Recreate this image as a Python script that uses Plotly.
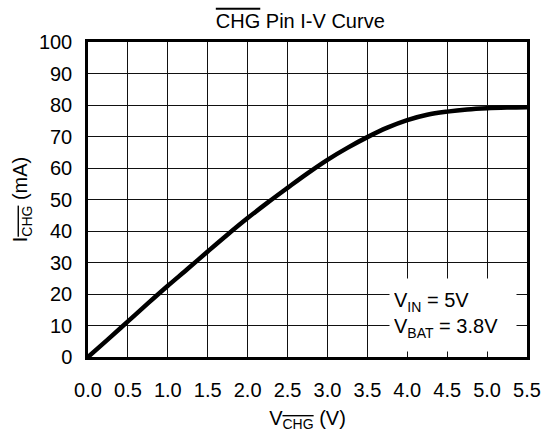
import plotly.graph_objects as go

v_chg = [0.0, 0.25, 0.5, 0.75, 1.0, 1.25, 1.5, 1.75, 2.0, 2.25, 2.5, 2.75,
         3.0, 3.25, 3.5, 3.75, 4.0, 4.25, 4.5, 4.75, 5.0, 5.25, 5.5]
i_chg = [0.0, 5.6, 11.3, 17.0, 22.6, 28.0, 33.5, 38.9, 44.1, 49.0, 53.7, 58.3,
         62.6, 66.4, 69.8, 72.8, 75.2, 76.9, 77.9, 78.6, 79.0, 79.2, 79.3]

x_ticks = [0.0, 0.5, 1.0, 1.5, 2.0, 2.5, 3.0, 3.5, 4.0, 4.5, 5.0, 5.5]
x_ticktext = ["%.1f" % t for t in x_ticks]
y_ticks = list(range(0, 101, 10))

OV = '<span style="text-decoration:overline">CHG</span>'
FONT = "Liberation Sans, Arial, sans-serif"

fig = go.Figure()
fig.add_trace(go.Scatter(x=v_chg, y=i_chg, mode="lines",
                         line=dict(color="black", width=4.5, shape="spline"),
                         showlegend=False, hoverinfo="skip"))

fig.update_layout(
    width=544, height=432,
    margin=dict(l=88, r=17, t=42, b=75, autoexpand=False),
    paper_bgcolor="white", plot_bgcolor="white",
    font=dict(family=FONT, size=20, color="black"),
    title=dict(text=OV + " Pin I-V Curve", x=0.552, xanchor="center",
               y=0.952, yanchor="middle", font=dict(size=20, family=FONT)),
    xaxis=dict(range=[0, 5.5], tickvals=x_ticks, ticktext=x_ticktext,
               showgrid=True, gridcolor="#111", gridwidth=1, automargin=False,
               zeroline=False, showline=True, linecolor="black", linewidth=2.5,
               mirror=True, ticks="", ticklabelstandoff=13,
               tickfont=dict(size=20),
               title=dict(text="V<sub>" + OV + "</sub> (V)", font=dict(size=20), standoff=12)),
    yaxis=dict(range=[0, 100], tickvals=y_ticks,
               showgrid=True, gridcolor="#111", gridwidth=1, automargin=False,
               zeroline=False, showline=True, linecolor="black", linewidth=2.5,
               mirror=True, ticks="", ticklabelstandoff=9,
               tickfont=dict(size=20),
               title=dict(text="I<sub>" + OV + "</sub> (mA)", font=dict(size=20), standoff=6)),
    annotations=[dict(
        x=3.775, y=13.3, xref="x", yref="y", xanchor="left", yanchor="middle",
        text="V<sub>IN</sub> = 5V<br>V<sub>BAT</sub> = 3.8V",
        showarrow=False, align="left", bgcolor="white", borderpad=4,
        width=118, height=64,
        font=dict(size=20, family=FONT))],
)

fig.write_html("out.html", config={"displayModeBar": False},
               post_script="document.body.style.margin='0';")
